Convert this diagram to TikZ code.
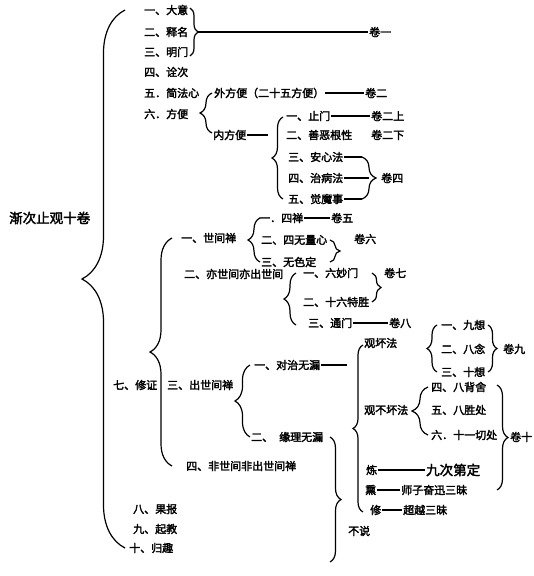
\documentclass[tikz,border=0pt]{standalone}
\usepackage{fontspec}
\setmainfont{Noto Sans CJK SC}[AutoFakeBold=2.5]
\usetikzlibrary{decorations.pathreplacing}

\begin{document}
\begin{tikzpicture}[x=1pt, y=-1pt]
    % Style definition for the outline entries and braces
    \tikzset{item/.style={anchor=west, inner sep=1pt, font=\fontsize{11}{13}\selectfont\bfseries},
             bigitem/.style={item, font=\fontsize{13.5}{16}\selectfont\bfseries},
             curly/.style={decorate, decoration={brace, amplitude=#1}, line width=1.2pt}}
    \tikzstyle{link} = [line width=1.2pt]

    \useasboundingbox (0,0) rectangle (534,576);

    % Title and the first level
    \node (root) [bigitem] at (8,218) {渐次止观十卷};
    \node (i1) [item] at (143,10) {一、大意};
    \node (i2) [item] at (143,32) {二、释名};
    \node (i3) [item] at (143,52) {三、明门};
    \node (i4) [item] at (143,72) {四、诠次};
    \node (i5) [item] at (143,93) {五．简法心};
    \node (i6) [item] at (143,114) {六．方便};
    \node (i7) [item] at (112,385) {七、修证};
    \node (i8) [item] at (132,509) {八、果报};
    \node (i9) [item] at (132,529) {九、起教};
    \node (i10) [item] at (128,548) {十、归趣};
    \draw [curly=43] (125,548) -- (125,10);

    % Volume one
    \draw [curly=8] (190,8) -- (190,56);
    \coordinate (tip1) at (198,32);
    \node (juan1) [item] at (368,32) {卷一};
    \draw [link] (tip1) -- (juan1);

    % Expedients
    \draw [curly=12] (212,133) -- (212,93);
    \node (wai) [item] at (213,93) {外方便（二十五方便）};
    \node (juan2) [item] at (364,93) {卷二};
    \draw [link] (wai) -- (juan2);
    \node (nei) [item] at (212,135) {内方便};
    \coordinate (neiend) at (268,135);
    \draw [link] (nei) -- (neiend);
    \draw [curly=11] (283,199) -- (283,117);
    \node (m1) [item] at (285,116) {一、止门};
    \node (m2) [item] at (285,135) {二、善恶根性};
    \node (m3) [item] at (287,157) {三、安心法};
    \node (m4) [item] at (287,178) {四、治病法};
    \node (m5) [item] at (287,199) {五、觉魔事};
    \node (juan2a) [item] at (370,116) {卷二上};
    \node (juan2b) [item] at (370,135) {卷二下};
    \draw [link] (m1) -- (juan2a);
    \coordinate (c3) at (362,157);
    \coordinate (c4) at (369,178);
    \coordinate (c5) at (362,199);
    \draw [link] (m3) -- (c3);
    \draw [link] (m4) -- (c4);
    \draw [link] (m5) -- (c5);
    \draw [curly=14] (c3) -- (c5);
    \node (juan4) [item] at (380,178) {卷四};

    % Practice and realisation
    \draw [curly=22] (172,466) -- (172,238);
    \node (s1) [item] at (180,238) {一、世间禅};
    \node (s2) [item] at (183,274) {二、亦世间亦出世间};
    \node (s3) [item] at (166,385) {三、出世间禅};
    \node (s4) [item] at (185,466) {四、非世间非出世间禅};

    % Worldly dhyana
    \draw [curly=12] (260,262) -- (260,218);
    \node (t1) [item] at (258,218) {一．四禅};
    \node (t2) [item] at (260,240) {二、四无量心};
    \node (t3) [item] at (260,262) {三、无色定};
    \node (juan5) [item] at (330,218) {卷五};
    \draw [link] (t1) -- (juan5);
    \draw [curly=10] (330,240) -- (330,262);
    \node (juan6) [item] at (353,239) {卷六};

    % Both worldly and supramundane
    \draw [curly=12] (296,325) -- (296,273);
    \node (u1) [item] at (302,273) {一、六妙门};
    \node (u2) [item] at (302,302) {二、十六特胜};
    \node (u3) [item] at (307,323) {三、通门};
    \draw [curly=9] (372,273) -- (372,302);
    \node (juan7) [item] at (383,273) {卷七};
    \node (juan8) [item] at (388,323) {卷八};
    \draw [link] (u3) -- (juan8);

    % Supramundane dhyana
    \draw [curly=15] (250,437) -- (250,365);
    \node (v1) [item] at (253,365) {一、对治无漏};
    \node (v2) [item] at (250,437) {二、\hspace{6pt}缘理无漏};
    \coordinate (v1end) at (347,365);
    \draw [link] (v1) -- (v1end);
    \draw [curly=10] (363,512) -- (363,345);
    \node (w1) [item] at (363,343) {观坏法};
    \node (w2) [item] at (363,410) {观不坏法};
    \node (w3) [item] at (365,470) {炼};
    \node (w4) [item] at (364,490) {熏};
    \node (w5) [item] at (369,510) {修};
    \node (jiuci) [bigitem] at (425,470) {九次第定};
    \node (shizi) [item] at (400,490) {师子奋迅三昧};
    \node (chaoyue) [item] at (402,510) {超越三昧};
    \draw [link] (w3) -- (jiuci);
    \draw [link] (w4) -- (shizi);
    \draw [link] (w5) -- (chaoyue);

    % Contemplation of the foul
    \draw [curly=10] (437,372) -- (437,325);
    \node (x1) [item] at (440,325) {一、九想};
    \node (x2) [item] at (440,349) {二、八念};
    \node (x3) [item] at (440,372) {三、十想};
    \draw [curly=9] (488,325) -- (488,372);
    \node (juan9) [item] at (502,349) {卷九};

    % Contemplation of the non-foul
    \draw [curly=16] (428,435) -- (428,387);
    \node (y1) [item] at (430,387) {四、八背舍};
    \node (y2) [item] at (430,410) {五、八胜处};
    \node (y3) [item] at (430,435) {六．十一切处};
    \draw [curly=11] (497,385) -- (497,490);
    \node (juan10) [item] at (509,437) {卷十};

    % Not discussed
    \draw [curly=11] (330,437) -- (330,562);
    \node (bushuo) [item] at (347,531) {不说};

\end{tikzpicture}
\end{document}
